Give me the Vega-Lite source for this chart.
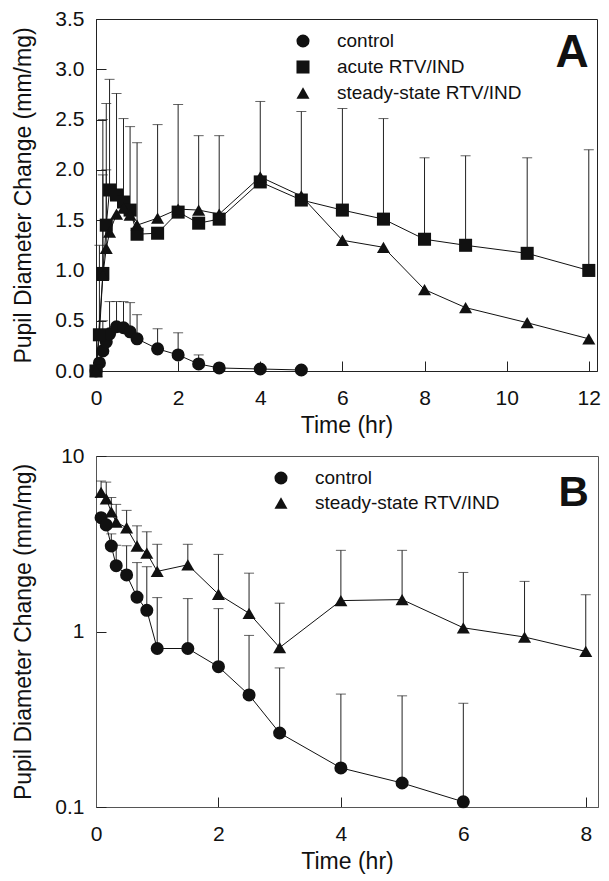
{
  "$schema": "https://vega.github.io/schema/vega-lite/v6.json",
  "padding": {"left": 11, "top": 7, "right": 0, "bottom": 0},
  "background": "white",
  "config": {
    "font": "Liberation Sans",
    "view": {"stroke": "#222"},
    "axis": {
      "grid": false, "domainColor": "#222", "tickColor": "#222", "labelColor": "#111", "titleColor": "#111",
      "labelFont": "Liberation Sans", "titleFont": "Liberation Sans", "labelFontSize": 21, "titleFontSize": 23,
      "titleFontWeight": "normal", "labelFlush": false, "labelOverlap": false, "tickSize": -10, "tickWidth": 1
    },
    "axisX": {"labelPadding": 26, "minExtent": 36, "maxExtent": 36, "titlePadding": 7.5},
    "axisY": {"labelPadding": 22, "minExtent": 41, "maxExtent": 41, "titlePadding": 20},
    "legend": {"labelFont": "Liberation Sans", "labelFontSize": 19, "labelColor": "#111", "padding": 0, "symbolSize": 170, "symbolStrokeWidth": 0, "symbolFillColor": "#111", "labelLimit": 400}
  },
  "datasets": {
    "a": [
      {"g": "control", "t": 0, "v": 0.0, "up": null},
      {"g": "control", "t": 0.083, "v": 0.08, "up": null},
      {"g": "control", "t": 0.167, "v": 0.20, "up": 0.5},
      {"g": "control", "t": 0.25, "v": 0.29, "up": null},
      {"g": "control", "t": 0.33, "v": 0.37, "up": 0.69},
      {"g": "control", "t": 0.5, "v": 0.44, "up": 0.69},
      {"g": "control", "t": 0.67, "v": 0.43, "up": 0.69},
      {"g": "control", "t": 0.83, "v": 0.39, "up": 0.68},
      {"g": "control", "t": 1, "v": 0.32, "up": 0.56},
      {"g": "control", "t": 1.5, "v": 0.22, "up": 0.42},
      {"g": "control", "t": 2, "v": 0.16, "up": 0.38},
      {"g": "control", "t": 2.5, "v": 0.07, "up": 0.16},
      {"g": "control", "t": 3, "v": 0.03, "up": null},
      {"g": "control", "t": 4, "v": 0.02, "up": null},
      {"g": "control", "t": 5, "v": 0.01, "up": null},
      {"g": "acute RTV/IND", "t": 0, "v": 0.0, "up": null},
      {"g": "acute RTV/IND", "t": 0.083, "v": 0.36, "up": 1.25},
      {"g": "acute RTV/IND", "t": 0.167, "v": 0.97, "up": 1.95},
      {"g": "acute RTV/IND", "t": 0.25, "v": 1.45, "up": 2.66},
      {"g": "acute RTV/IND", "t": 0.33, "v": 1.80, "up": 2.9},
      {"g": "acute RTV/IND", "t": 0.5, "v": 1.75, "up": 2.76},
      {"g": "acute RTV/IND", "t": 0.67, "v": 1.68, "up": 2.51},
      {"g": "acute RTV/IND", "t": 0.83, "v": 1.60, "up": 2.43},
      {"g": "acute RTV/IND", "t": 1, "v": 1.36, "up": 2.27},
      {"g": "acute RTV/IND", "t": 1.5, "v": 1.37, "up": null},
      {"g": "acute RTV/IND", "t": 2, "v": 1.58, "up": 2.65},
      {"g": "acute RTV/IND", "t": 2.5, "v": 1.47, "up": null},
      {"g": "acute RTV/IND", "t": 3, "v": 1.51, "up": null},
      {"g": "acute RTV/IND", "t": 4, "v": 1.88, "up": 2.68},
      {"g": "acute RTV/IND", "t": 5, "v": 1.70, "up": 2.58},
      {"g": "acute RTV/IND", "t": 6, "v": 1.60, "up": 2.61},
      {"g": "acute RTV/IND", "t": 7, "v": 1.51, "up": 2.51},
      {"g": "acute RTV/IND", "t": 8, "v": 1.31, "up": 2.12},
      {"g": "acute RTV/IND", "t": 9, "v": 1.25, "up": 2.14},
      {"g": "acute RTV/IND", "t": 10.5, "v": 1.17, "up": 2.12},
      {"g": "acute RTV/IND", "t": 12, "v": 1.00, "up": 2.20},
      {"g": "steady-state RTV/IND", "t": 0, "v": 0.0, "up": null},
      {"g": "steady-state RTV/IND", "t": 0.167, "v": 0.95, "up": 2.5},
      {"g": "steady-state RTV/IND", "t": 0.25, "v": 1.22, "up": 2.0},
      {"g": "steady-state RTV/IND", "t": 0.33, "v": 1.38, "up": null},
      {"g": "steady-state RTV/IND", "t": 0.5, "v": 1.56, "up": null},
      {"g": "steady-state RTV/IND", "t": 0.67, "v": 1.62, "up": null},
      {"g": "steady-state RTV/IND", "t": 0.83, "v": 1.55, "up": null},
      {"g": "steady-state RTV/IND", "t": 1, "v": 1.45, "up": null},
      {"g": "steady-state RTV/IND", "t": 1.5, "v": 1.52, "up": 2.45},
      {"g": "steady-state RTV/IND", "t": 2, "v": 1.61, "up": null},
      {"g": "steady-state RTV/IND", "t": 2.5, "v": 1.60, "up": 2.34},
      {"g": "steady-state RTV/IND", "t": 3, "v": 1.56, "up": 2.34},
      {"g": "steady-state RTV/IND", "t": 4, "v": 1.93, "up": null},
      {"g": "steady-state RTV/IND", "t": 5, "v": 1.74, "up": null},
      {"g": "steady-state RTV/IND", "t": 6, "v": 1.30, "up": null},
      {"g": "steady-state RTV/IND", "t": 7, "v": 1.23, "up": null},
      {"g": "steady-state RTV/IND", "t": 8, "v": 0.81, "up": null},
      {"g": "steady-state RTV/IND", "t": 9, "v": 0.63, "up": null},
      {"g": "steady-state RTV/IND", "t": 10.5, "v": 0.48, "up": null},
      {"g": "steady-state RTV/IND", "t": 12, "v": 0.32, "up": null}
    ],
    "b": [
      {"g": "control", "t": 0.083, "v": 4.45, "up": null},
      {"g": "control", "t": 0.167, "v": 4.05, "up": null},
      {"g": "control", "t": 0.25, "v": 3.07, "up": 3.6},
      {"g": "control", "t": 0.33, "v": 2.37, "up": 3.1},
      {"g": "control", "t": 0.5, "v": 2.1, "up": 3.08},
      {"g": "control", "t": 0.67, "v": 1.57, "up": 2.47},
      {"g": "control", "t": 0.83, "v": 1.32, "up": 2.34},
      {"g": "control", "t": 1, "v": 0.80, "up": 1.56},
      {"g": "control", "t": 1.5, "v": 0.80, "up": 1.54},
      {"g": "control", "t": 2, "v": 0.63, "up": 1.35},
      {"g": "control", "t": 2.5, "v": 0.435, "up": 0.95},
      {"g": "control", "t": 3, "v": 0.264, "up": 0.62},
      {"g": "control", "t": 4, "v": 0.167, "up": 0.44},
      {"g": "control", "t": 5, "v": 0.137, "up": 0.43},
      {"g": "control", "t": 6, "v": 0.107, "up": 0.39},
      {"g": "steady-state RTV/IND", "t": 0.083, "v": 6.2, "up": 7.2},
      {"g": "steady-state RTV/IND", "t": 0.167, "v": 5.7, "up": 7.1},
      {"g": "steady-state RTV/IND", "t": 0.25, "v": 4.8, "up": 5.8},
      {"g": "steady-state RTV/IND", "t": 0.33, "v": 4.2, "up": 5.3},
      {"g": "steady-state RTV/IND", "t": 0.5, "v": 3.9, "up": 4.9},
      {"g": "steady-state RTV/IND", "t": 0.67, "v": 3.07, "up": 4.0},
      {"g": "steady-state RTV/IND", "t": 0.83, "v": 2.8, "up": 3.7},
      {"g": "steady-state RTV/IND", "t": 1, "v": 2.2, "up": 3.14},
      {"g": "steady-state RTV/IND", "t": 1.5, "v": 2.4, "up": 3.14},
      {"g": "steady-state RTV/IND", "t": 2, "v": 1.63, "up": 2.75},
      {"g": "steady-state RTV/IND", "t": 2.5, "v": 1.27, "up": 2.15},
      {"g": "steady-state RTV/IND", "t": 3, "v": 0.81, "up": 1.45},
      {"g": "steady-state RTV/IND", "t": 4, "v": 1.5, "up": 2.9},
      {"g": "steady-state RTV/IND", "t": 5, "v": 1.52, "up": 2.9},
      {"g": "steady-state RTV/IND", "t": 6, "v": 1.05, "up": 2.17},
      {"g": "steady-state RTV/IND", "t": 7, "v": 0.93, "up": 1.93},
      {"g": "steady-state RTV/IND", "t": 8, "v": 0.77, "up": 1.62}
    ],
    "labA": [{"label": "A"}],
    "labB": [{"label": "B"}]
  },
  "spacing": 6,
  "resolve": {"scale": {"shape": "independent"}, "legend": {"shape": "independent"}},
  "vconcat": [
    {
      "width": 501, "height": 352,
      "layer": [
        {"data": {"name": "a"}, "transform": [{"filter": "isValid(datum.up)"}], "mark": {"type": "rule", "color": "#222", "strokeWidth": 1},
         "encoding": {
           "x": {"field": "t", "type": "quantitative", "scale": {"domain": [0, 12.2], "nice": false, "zero": false},
                 "axis": {"values": [0, 2, 4, 6, 8, 10, 12], "title": "Time (hr)", "format": "d"}},
           "y": {"field": "v", "type": "quantitative", "scale": {"domain": [0, 3.5], "nice": false},
                 "axis": {"values": [0, 0.5, 1, 1.5, 2, 2.5, 3, 3.5], "format": ".1f", "title": "Pupil Diameter Change (mm/mg)"}},
           "y2": {"field": "up"}}},
        {"data": {"name": "a"}, "transform": [{"filter": "isValid(datum.up)"}], "mark": {"type": "tick", "orient": "horizontal", "size": 10, "thickness": 1, "color": "#222"},
         "encoding": {"x": {"field": "t", "type": "quantitative"}, "y": {"field": "up", "type": "quantitative"}}},
        {"data": {"name": "a"}, "mark": {"type": "line", "color": "#111", "strokeWidth": 1},
         "encoding": {"x": {"field": "t", "type": "quantitative"}, "y": {"field": "v", "type": "quantitative"}, "detail": {"field": "g", "type": "nominal"}}},
        {"data": {"name": "a"}, "mark": {"type": "point", "filled": true, "color": "#111", "opacity": 1, "size": 170},
         "encoding": {"x": {"field": "t", "type": "quantitative"}, "y": {"field": "v", "type": "quantitative"},
           "shape": {"field": "g", "type": "nominal",
           "scale": {"domain": ["control", "acute RTV/IND", "steady-state RTV/IND"], "range": ["circle", "square", "triangle-up"]},
           "legend": {"orient": "none", "legendX": 197.5, "legendY": 12.5, "title": null, "rowPadding": 6, "labelOffset": 24.5}}}},
        {"data": {"name": "labA"}, "mark": {"type": "text", "fontSize": 46, "fontWeight": "bold", "align": "right", "baseline": "alphabetic", "color": "#111", "font": "Liberation Sans"},
         "encoding": {"x": {"datum": 12.0, "type": "quantitative"}, "y": {"datum": 3.02, "type": "quantitative"}, "text": {"field": "label", "type": "nominal"}}}
      ]
    },
    {
      "width": 502, "height": 351,
      "view": {"stroke": "#555"},
      "layer": [
        {"data": {"name": "b"}, "transform": [{"filter": "isValid(datum.up)"}], "mark": {"type": "rule", "color": "#222", "strokeWidth": 1},
         "encoding": {
           "x": {"field": "t", "type": "quantitative", "scale": {"domain": [0, 8.2], "nice": false, "zero": false},
                 "axis": {"values": [0, 2, 4, 6, 8], "title": "Time (hr)", "format": "d", "domainColor": "#555"}},
           "y": {"field": "v", "type": "quantitative", "scale": {"type": "log", "domain": [0.1, 10], "nice": false},
                 "axis": {"values": [0.1, 1, 10], "format": "~g", "title": "Pupil Diameter Change (mm/mg)", "domainColor": "#555"}},
           "y2": {"field": "up"}}},
        {"data": {"name": "b"}, "transform": [{"filter": "isValid(datum.up)"}], "mark": {"type": "tick", "orient": "horizontal", "size": 10, "thickness": 1, "color": "#222"},
         "encoding": {"x": {"field": "t", "type": "quantitative"}, "y": {"field": "up", "type": "quantitative"}}},
        {"data": {"name": "b"}, "mark": {"type": "line", "color": "#111", "strokeWidth": 1},
         "encoding": {"x": {"field": "t", "type": "quantitative"}, "y": {"field": "v", "type": "quantitative"}, "detail": {"field": "g", "type": "nominal"}}},
        {"data": {"name": "b"}, "mark": {"type": "point", "filled": true, "color": "#111", "opacity": 1, "size": 170},
         "encoding": {"x": {"field": "t", "type": "quantitative"}, "y": {"field": "v", "type": "quantitative"},
           "shape": {"field": "g", "type": "nominal",
           "scale": {"domain": ["control", "steady-state RTV/IND"], "range": ["circle", "triangle-up"]},
           "legend": {"orient": "none", "legendX": 175.5, "legendY": 12.5, "title": null, "rowPadding": 5, "labelOffset": 24.5}}}},
        {"data": {"name": "labB"}, "mark": {"type": "text", "fontSize": 42, "fontWeight": "bold", "align": "right", "baseline": "alphabetic", "color": "#111", "font": "Liberation Sans"},
         "encoding": {"x": {"datum": 8.05, "type": "quantitative"}, "y": {"datum": 5.17, "type": "quantitative"}, "text": {"field": "label", "type": "nominal"}}}
      ]
    }
  ]
}
